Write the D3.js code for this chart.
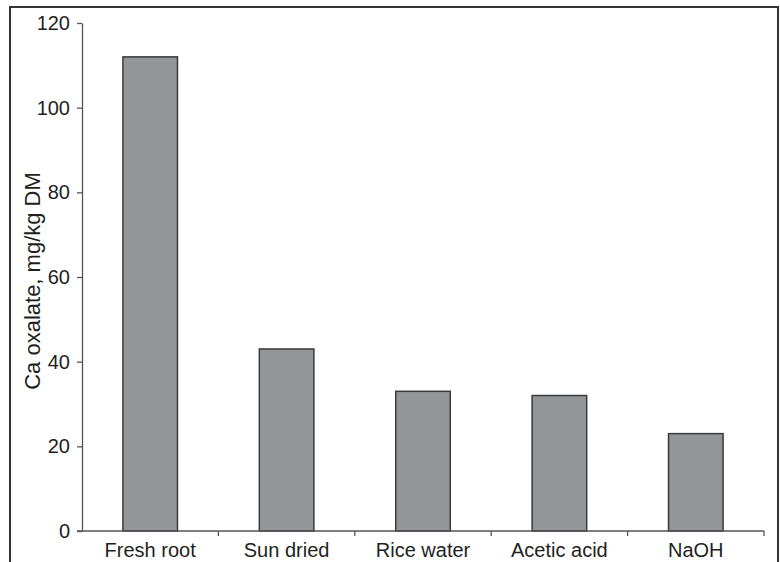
<!DOCTYPE html>
<html>
<head>
<meta charset="utf-8">
<script src="https://cdn.jsdelivr.net/npm/d3@7"></script>
<style>
  html, body { margin: 0; padding: 0; background: #fff; }
  svg { display: block; }
  text { font-family: "Liberation Sans", Arial, sans-serif; fill: #231f20; }
</style>
</head>
<body>
<svg id="chart" width="780" height="562"></svg>
<script>
const categories = ["Fresh root", "Sun dried", "Rice water", "Acetic acid", "NaOH"];
const values = [112, 43, 33, 32, 23];
const yTicks = [0, 20, 40, 60, 80, 100, 120];
const yTitle = "Ca oxalate, mg/kg DM";

(function () {
const svg = d3.select("#chart");
const W = 780, H = 562;
const pLeft = 82, pRight = 764, pTop = 23, pBottom = 531;

// outer frame
svg.append("path")
  .attr("d", `M10,${H + 2} L10,7 L778,7 L778,${H + 2}`)
  .attr("fill", "none").attr("stroke", "#333").attr("stroke-width", 2);

const x = d3.scaleBand().domain(categories).range([pLeft, pRight]).padding(0);
const y = d3.scaleLinear().domain([0, 120]).range([pBottom, pTop]);

// bars
const barW = x.bandwidth() * 0.40;
svg.append("g").selectAll("rect").data(values).join("rect")
  .attr("x", (d, i) => x(categories[i]) + x.bandwidth() / 2 - barW / 2)
  .attr("y", d => y(d))
  .attr("width", barW)
  .attr("height", d => y(0) - y(d))
  .attr("fill", "#939598")
  .attr("stroke", "#3a3a3a")
  .attr("stroke-width", 1.5);

// y axis
const yAxis = d3.axisLeft(y).tickValues(yTicks).tickSize(5).tickPadding(7).tickSizeOuter(0);
const gy = svg.append("g").attr("transform", `translate(${pLeft},0)`).call(yAxis);
gy.select(".domain").attr("stroke", "#555").attr("stroke-width", 1.3);
gy.selectAll(".tick line").attr("stroke", "#555").attr("stroke-width", 1.3);
gy.selectAll(".tick text").attr("font-size", 20).attr("font-family", "Liberation Sans, Arial, sans-serif").attr("fill", "#231f20");

// x axis: ticks at band boundaries, labels centered
const gx = svg.append("g").attr("transform", `translate(0,${pBottom})`);
gx.append("line").attr("x1", pLeft - 5).attr("x2", pRight).attr("y1", 0).attr("y2", 0)
  .attr("stroke", "#555").attr("stroke-width", 1.3);
const bounds = categories.map(c => x(c)).concat([pRight]).slice(1);
gx.selectAll("line.tk").data(bounds).join("line").attr("class", "tk")
  .attr("x1", d => d).attr("x2", d => d).attr("y1", 0).attr("y2", 5)
  .attr("stroke", "#555").attr("stroke-width", 1.3);
gx.selectAll("text").data(categories).join("text")
  .attr("x", d => x(d) + x.bandwidth() / 2)
  .attr("y", 26)
  .attr("text-anchor", "middle")
  .attr("font-size", 20)
  .text(d => d);

// y title
svg.append("text")
  .attr("transform", `translate(40,281) rotate(-90)`)
  .attr("text-anchor", "middle")
  .attr("font-size", 22)
  .text(yTitle);
})();
</script>
</body>
</html>
